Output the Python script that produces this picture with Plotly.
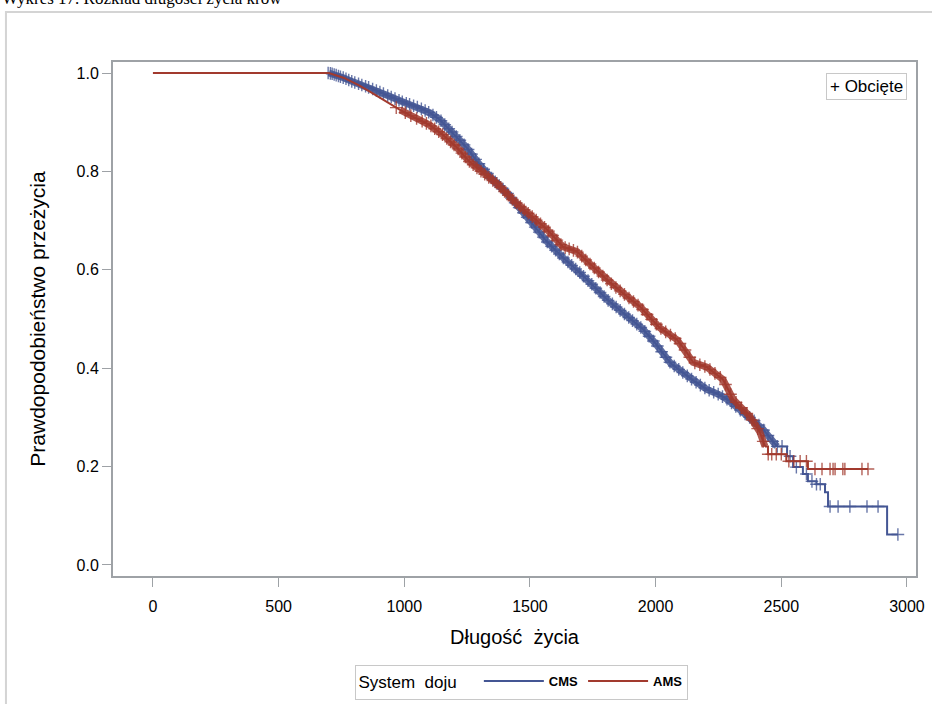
import numpy as np
import plotly.graph_objects as go

# Kaplan-Meier survival estimates by milking system (time in days, survival probability)
cms_time = [0, 700, 716, 760, 796, 863, 931, 995, 1062, 1102, 1142, 1194, 1249, 1301,
            1353, 1408, 1448, 1500, 1568, 1631, 1699, 1767, 1806, 1846, 1900, 1950,
            2000, 2029, 2060, 2109, 2150, 2204, 2250, 2284, 2320, 2348, 2400, 2427,
            2460, 2483, 2523, 2547, 2586, 2606, 2640, 2674, 2686, 2921, 2964]
cms_surv = [1.0, 1.0, 0.998, 0.990, 0.982, 0.970, 0.955, 0.941, 0.929, 0.919, 0.905,
            0.878, 0.848, 0.813, 0.783, 0.757, 0.732, 0.700, 0.657, 0.625, 0.594,
            0.560, 0.540, 0.523, 0.500, 0.479, 0.450, 0.430, 0.410, 0.391, 0.375,
            0.357, 0.347, 0.337, 0.322, 0.310, 0.290, 0.276, 0.255, 0.241, 0.221,
            0.199, 0.185, 0.170, 0.164, 0.148, 0.119, 0.062, 0.062]

ams_time = [0, 700, 760, 820, 863, 931, 983, 1035, 1102, 1154, 1210, 1261, 1313, 1369,
            1432, 1500, 1568, 1631, 1687, 1751, 1818, 1886, 1938, 1977, 2017, 2085,
            2120, 2149, 2204, 2268, 2308, 2340, 2375, 2415, 2435, 2447, 2520, 2606, 2845]
ams_surv = [1.0, 1.0, 0.990, 0.975, 0.962, 0.941, 0.925, 0.911, 0.894, 0.874, 0.848,
            0.819, 0.797, 0.775, 0.742, 0.712, 0.682, 0.647, 0.637, 0.606, 0.574,
            0.546, 0.525, 0.503, 0.482, 0.458, 0.435, 0.412, 0.402, 0.377, 0.337,
            0.320, 0.302, 0.270, 0.241, 0.225, 0.211, 0.195, 0.195]

# Span with heavy censoring (drawn as a dense band) and start of the sparse tail
cms_dense_from, cms_tail_from = 696, 2483
ams_dense_from, ams_tail_from = 960, 2435

# Censored observations (days)
cms_censored = [697, 706, 713, 721, 729, 738, 746, 757, 768, 779, 791, 803, 818, 831,
                846, 858, 874, 889, 903, 917, 934, 948, 963, 979, 992, 1008, 1021,
                1037, 1052, 1068, 1083, 1097, 1114, 1128, 1146, 1161, 1177, 1190,
                1207, 1221, 1238, 1254, 1268, 1284, 1297, 1316, 1331, 1347, 1362,
                1378, 1393, 1411, 1426, 1441, 1457, 1474, 1489, 1506, 1521, 1537,
                1553, 1569, 1586, 1602, 1617, 1633, 1651, 1666, 1682, 1698, 1713,
                1731, 1746, 1762, 1779, 1795, 1811, 1828, 1843, 1859, 1876, 1893,
                1908, 1925, 1941, 1957, 1974, 1991, 2007, 2024, 2041, 2057, 2074,
                2092, 2108, 2126, 2143, 2161, 2178, 2196, 2213, 2231, 2249, 2266,
                2284, 2302, 2319, 2337, 2356, 2374, 2392, 2411, 2430, 2447, 2466,
                2484, 2503, 2535, 2560, 2600, 2622, 2640, 2655, 2694, 2726, 2773,
                2841, 2885, 2964]
ams_censored = [968, 1004, 1026, 1049, 1071, 1088, 1106, 1121, 1137, 1152, 1169, 1184,
                1198, 1214, 1229, 1243, 1259, 1274, 1289, 1305, 1320, 1336, 1352,
                1367, 1383, 1399, 1414, 1430, 1446, 1462, 1477, 1493, 1509, 1525,
                1542, 1558, 1574, 1590, 1607, 1623, 1640, 1656, 1673, 1689, 1706,
                1722, 1739, 1756, 1773, 1790, 1807, 1824, 1842, 1859, 1876, 1894,
                1912, 1930, 1948, 1966, 1984, 2003, 2021, 2040, 2059, 2078, 2097,
                2117, 2136, 2156, 2176, 2196, 2216, 2236, 2257, 2278, 2298, 2320,
                2341, 2363, 2384, 2406, 2428, 2448, 2462, 2480, 2500, 2530, 2550,
                2575, 2600, 2634, 2662, 2694, 2706, 2714, 2745, 2753, 2821, 2845]

x_ticks = [0, 500, 1000, 1500, 2000, 2500, 3000]
y_ticks = [0.0, 0.2, 0.4, 0.6, 0.8, 1.0]

CMS_COLOR = "#445694"
AMS_COLOR = "#A23A2E"
AXIS_COLOR = "#9ea2a6"
FONT = "Liberation Sans, Arial"


def curve_at(times, surv, t):
    """Curve value at time t, linear between closely spaced event times."""
    return np.interp(t, times, surv)


def tail_value(times, surv, t):
    """Step (right-continuous) value at time t."""
    i = np.searchsorted(np.asarray(times), t, side="right") - 1
    return np.asarray(surv)[np.clip(i, 0, len(surv) - 1)]


fig = go.Figure()

series = [
    ("CMS", cms_time, cms_surv, cms_censored, cms_dense_from, cms_tail_from, CMS_COLOR),
    ("AMS", ams_time, ams_surv, ams_censored, ams_dense_from, ams_tail_from, AMS_COLOR),
]

for name, times, surv, cens, dense_from, tail_from, color in series:
    t = np.asarray(times)
    s = np.asarray(surv)
    body = t <= tail_from
    tail = t >= tail_from
    band = (t >= dense_from) & (t <= tail_from)

    # heavy censoring fuses the marks into a thick band along the curve
    fig.add_trace(go.Scatter(
        x=t[band], y=s[band], mode="lines", line=dict(color=color, width=7),
        opacity=0.85, hoverinfo="skip", showlegend=False, legendgroup=name,
    ))
    # survival curve: many small steps in the body, visible steps in the tail
    fig.add_trace(go.Scatter(
        x=t[body], y=s[body], mode="lines", name=name, legendgroup=name,
        line=dict(color=color, width=2),
    ))
    fig.add_trace(go.Scatter(
        x=t[tail], y=s[tail], mode="lines", showlegend=False, legendgroup=name,
        line=dict(color=color, width=2, shape="hv"),
    ))
    c = np.asarray(cens)
    cens_y = np.where(c <= tail_from, curve_at(t, s, c), tail_value(t, s, c))
    fig.add_trace(go.Scatter(
        x=c, y=cens_y, mode="markers", showlegend=False, legendgroup=name,
        marker=dict(symbol="cross-thin", size=9, opacity=0.8,
                    line=dict(color=color, width=1.4)),
    ))

fig.update_xaxes(
    range=[-159, 3036], tickvals=x_ticks, ticks="outside", ticklen=9,
    tickcolor=AXIS_COLOR, tickwidth=1, showline=True, mirror=True,
    linecolor=AXIS_COLOR, linewidth=2, showgrid=False, zeroline=False,
    ticklabelstandoff=6,
    tickfont=dict(family=FONT, size=16, color="black"),
    title=dict(text="Długość  życia", standoff=16,
               font=dict(family=FONT, size=20, color="black")),
)
fig.update_yaxes(
    range=[-0.0224, 1.0224], tickvals=y_ticks, tickformat=".1f", ticks="outside",
    ticklen=9, tickcolor=AXIS_COLOR, tickwidth=1, showline=True, mirror=True,
    linecolor=AXIS_COLOR, linewidth=2, showgrid=False, zeroline=False,
    tickfont=dict(family=FONT, size=16, color="black"),
    title=dict(text="Prawdopodobieństwo przeżycia", standoff=25,
               font=dict(family=FONT, size=21, color="black")),
)

fig.update_layout(
    width=932, height=704,
    margin=dict(l=113, r=16, t=62, b=128, autoexpand=False),
    paper_bgcolor="white", plot_bgcolor="white",
    showlegend=True,
    legend=dict(
        orientation="h", xref="container", yref="container",
        x=0.56, xanchor="center", y=0.0554, yanchor="top",
        title=dict(text="System  doju   ",
                   font=dict(family=FONT, size=17, color="black", weight="normal")),
        font=dict(family=FONT, size=13, color="black", weight="bold"),
        bordercolor="#c8c8c8", borderwidth=1, itemwidth=60,
        traceorder="normal",
    ),
    shapes=[
        # outer page frame
        dict(type="rect", xref="paper", yref="paper",
             x0=-0.1333, x1=1.05, y0=-0.27, y1=1.0973,
             line=dict(color="#d4d4d4", width=2), fillcolor="rgba(0,0,0,0)",
             layer="below"),
    ],
    annotations=[
        dict(text="Wykres 17. Rozkład długości życia krów", xref="paper", yref="paper",
             x=-0.1407, xanchor="left", y=1.1245, yanchor="middle", showarrow=False,
             font=dict(family="Liberation Serif, Times New Roman", size=17, color="black")),
        dict(text="+ Obcięte", xref="paper", yref="paper",
             x=0.9885, xanchor="right", y=0.979, yanchor="top", showarrow=False,
             font=dict(family=FONT, size=17, color="black"),
             bordercolor="#c8c8c8", borderwidth=1, borderpad=3, bgcolor="white"),
    ],
)

fig.write_html("out.html")
